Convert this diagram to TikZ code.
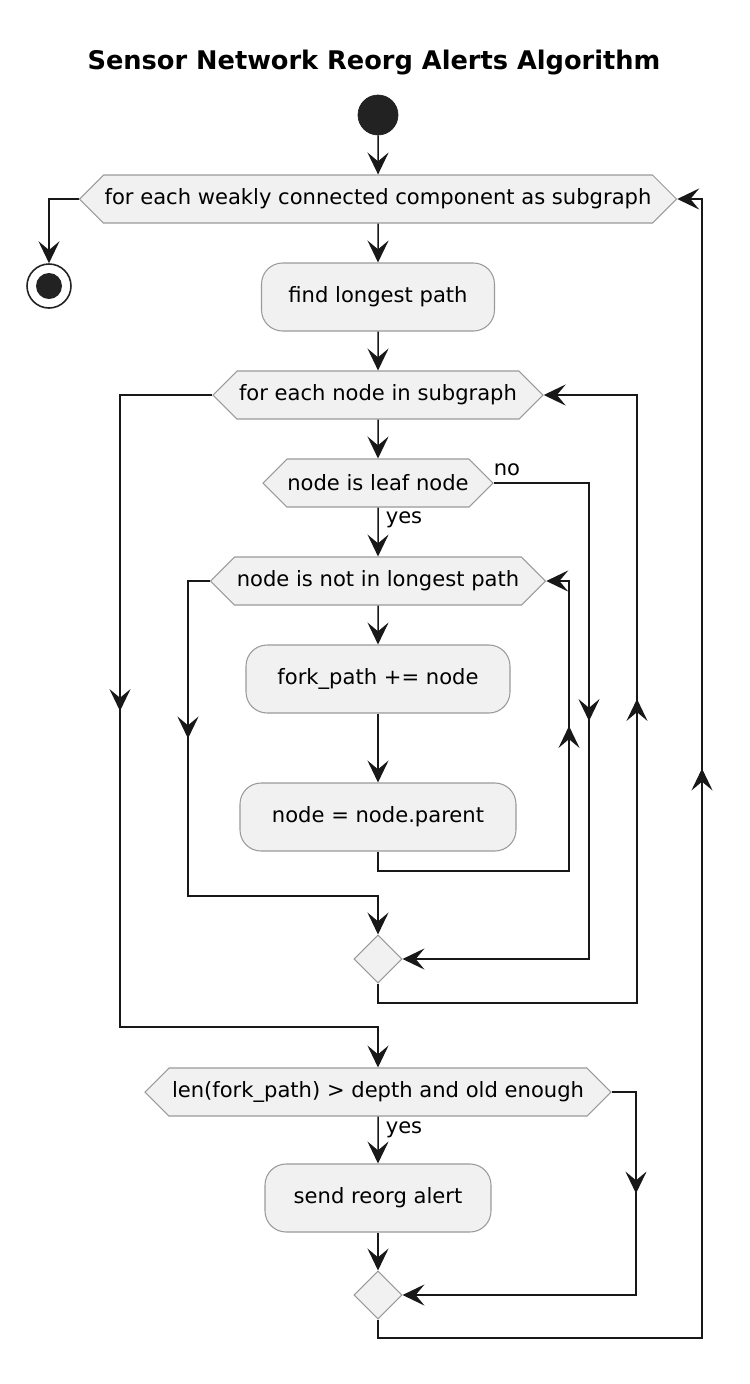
\documentclass[tikz,border=0pt]{standalone}
\usepackage{fontspec}
\setmainfont{DejaVu Sans}
\usetikzlibrary{shapes.symbols, shapes.geometric, arrows.meta, decorations.markings}

\newcommand{\upx}{0.02cm}
\newcommand{\bodyfont}{\fontsize{12pt}{14pt}\selectfont}
\newcommand{\titlefont}{\fontsize{14.6pt}{17pt}\selectfont\bfseries}
\definecolor{actfill}{HTML}{F1F1F1}
\definecolor{actborder}{HTML}{9A9A9A}
\definecolor{flowline}{HTML}{181818}
\definecolor{dotfill}{HTML}{222222}

\tikzset{
  umltip/.tip={Stealth[length=12.5pt, width=12pt, inset=5pt]},
  hexloop/.style={signal, signal to=east and west, signal pointer angle=90, draw=actborder, fill=actfill, line width=0.6pt, minimum height=48*\upx, inner sep=0pt, font=\bodyfont},
  actbox/.style={rectangle, rounded corners=12pt, draw=actborder, fill=actfill, line width=0.6pt, minimum height=68*\upx, inner sep=0pt, font=\bodyfont},
  mergept/.style={diamond, draw=actborder, fill=actfill, line width=0.6pt, minimum width=48*\upx, minimum height=48*\upx, inner sep=0pt},
  startdot/.style={circle, fill=dotfill, draw=dotfill, minimum size=40*\upx, inner sep=0pt},
  stopdot/.style={circle, fill=white, draw=dotfill, line width=0.9pt, minimum size=44*\upx, inner sep=0pt,
    path picture={\fill[dotfill] (path picture bounding box.center) circle (13*\upx);}},
  lbl/.style={font=\bodyfont, inner sep=0pt},
  wire/.style={draw=flowline, line width=0.85pt},
  flow/.style={wire, -umltip},
  midtip/.style={postaction={decorate}, decoration={markings, mark=at position 0.5 with {\arrow{umltip}}}}
}

\begin{document}
\begin{tikzpicture}[x=0.02cm, y=-0.02cm]
  \useasboundingbox (0,0) rectangle (750,1384);
  \node[font=\titlefont, anchor=base, inner sep=0pt] (title) at (374,69) {Sensor Network Reorg Alerts Algorithm};

  % outer loop
  \node[startdot] (start) at (378,115) {};
  \node[hexloop, minimum width=597*\upx] (forcomp) at (378,199) {for each weakly connected component as subgraph};
  \node[stopdot] (stop) at (49,286) {};
  \node[actbox, minimum width=233*\upx] (longest) at (378,297) {find longest path};

  % inner loop over nodes
  \node[hexloop, minimum width=330*\upx] (eachnode) at (378,395) {for each node in subgraph};
  \node[hexloop, minimum width=230*\upx] (isleaf) at (378,483) {node is leaf node};
  \node[hexloop, minimum width=335*\upx] (notin) at (378,581) {node is not in longest path};
  \node[actbox, minimum width=264*\upx] (addfork) at (378,679) {fork\_path += node};
  \node[actbox, minimum width=276*\upx] (toparent) at (378,817) {node = node.parent};
  \node[mergept] (merge1) at (378,959) {};

  % alert check
  \node[hexloop, minimum width=466*\upx] (deep) at (378,1092) {len(fork\_path) > depth and old enough};
  \node[actbox, minimum width=226*\upx] (alert) at (378,1198) {send reorg alert};
  \node[mergept] (merge2) at (378,1295) {};

  \node[lbl] (yes1) at (404,520) {yes};
  \node[lbl] (no1) at (507,470) {no};
  \node[lbl] (yes2) at (404,1130) {yes};

  \coordinate (pb) at (569,871);
  \coordinate (nl) at (188,896);
  \coordinate (nr) at (589,959);
  \coordinate (ml) at (637,1003);
  \coordinate (el) at (120,1027);
  \coordinate (ar) at (636,1295);
  \coordinate (cl) at (702,1338);

  % main flow
  \draw[flow] (start) -- (forcomp);
  \draw[flow] (forcomp.west) -| (stop);
  \draw[flow] (forcomp) -- (longest);
  \draw[flow] (longest) -- (eachnode);
  \draw[flow] (eachnode) -- (isleaf);
  \draw[flow] (isleaf) -- (notin);
  \draw[flow] (notin) -- (addfork);
  \draw[flow] (addfork) -- (toparent);
  \draw[flow] (deep) -- (alert);
  \draw[flow] (alert) -- (merge2);

  % loop backs and exits
  \draw[flow] (toparent.south) |- (pb) |- (notin.east);
  \draw[wire, midtip] (pb) -- (pb |- notin.east);
  \draw[flow] (notin.west) -| (nl) -| (merge1.north);
  \draw[wire, midtip] (notin.west -| nl) -- (nl);
  \draw[flow] (isleaf.east) -| (nr) -- (merge1.east);
  \draw[wire, midtip] (isleaf.east -| nr) -- (nr);
  \draw[flow] (merge1.south) |- (ml) |- (eachnode.east);
  \draw[wire, midtip] (ml) -- (ml |- eachnode.east);
  \draw[flow] (eachnode.west) -| (el) -| (deep.north);
  \draw[wire, midtip] (eachnode.west -| el) -- (el);
  \draw[flow] (deep.east) -| (ar) -- (merge2.east);
  \draw[wire, midtip] (deep.east -| ar) -- (ar);
  \draw[flow] (merge2.south) |- (cl) |- (forcomp.east);
  \draw[wire, midtip] (cl) -- (cl |- forcomp.east);
\end{tikzpicture}
\end{document}
